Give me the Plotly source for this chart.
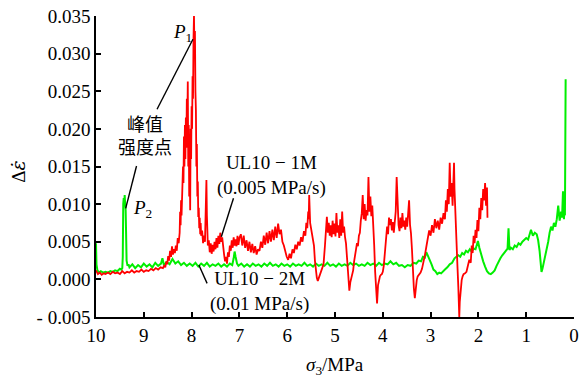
import plotly.graph_objects as go

# ---------------- data ----------------
# UL10-1M (0.005 MPa/s): sigma3 (MPa) and strain-rate increment
red_x = [
    10.00, 9.96, 9.92, 9.88, 9.84, 9.80, 9.75, 9.70, 9.65, 9.60, 9.55, 9.50, 9.45, 9.40, 9.35,
    9.30, 9.25, 9.20, 9.15, 9.10, 9.05, 9.00, 8.95, 8.90, 8.85, 8.80, 8.75, 8.70, 8.65, 8.60,
    8.57, 8.55, 8.53, 8.51, 8.49, 8.47, 8.45, 8.43, 8.41, 8.39, 8.37, 8.35, 8.33, 8.31, 8.29, 8.27,
    8.25, 8.24, 8.23, 8.22, 8.21, 8.20, 8.19, 8.18, 8.17, 8.16, 8.15, 8.14, 8.13, 8.12, 8.11, 8.10,
    8.09, 8.08, 8.07, 8.06, 8.05, 8.04, 8.03, 8.02, 8.01, 8.00, 7.99, 7.98, 7.97, 7.96, 7.95, 7.94,
    7.93, 7.92, 7.91, 7.90, 7.89, 7.88, 7.87, 7.86, 7.85, 7.84, 7.83, 7.82, 7.81, 7.80,
    7.78, 7.76, 7.74, 7.72, 7.71, 7.70, 7.69, 7.68, 7.67, 7.66, 7.64, 7.62, 7.60, 7.58, 7.56, 7.54,
    7.52, 7.50, 7.48, 7.46, 7.44, 7.42, 7.40, 7.38, 7.36, 7.34, 7.32, 7.30, 7.28, 7.26, 7.24, 7.22,
    7.20, 7.18, 7.16, 7.14, 7.12, 7.10, 7.08, 7.06, 7.04, 7.02, 7.00,
    6.97, 6.94, 6.91, 6.88, 6.85, 6.82, 6.79, 6.76, 6.73, 6.70, 6.67, 6.64, 6.61, 6.58, 6.55, 6.52,
    6.49, 6.46, 6.43, 6.40, 6.37, 6.34, 6.31, 6.28, 6.25, 6.22, 6.19, 6.16, 6.13, 6.10, 6.07, 6.04,
    6.01, 5.98,
    5.95, 5.92, 5.89, 5.86, 5.83, 5.80, 5.77, 5.74, 5.71, 5.68, 5.65, 5.62, 5.60, 5.58, 5.56, 5.55,
    5.54, 5.52, 5.50, 5.48, 5.46, 5.44, 5.42, 5.40, 5.38, 5.36,
    5.33, 5.30, 5.27, 5.24, 5.21, 5.19, 5.17, 5.15, 5.13, 5.11, 5.09, 5.07, 5.05, 5.03, 5.01, 4.99,
    4.97, 4.95, 4.93, 4.91, 4.89, 4.87, 4.85, 4.83, 4.81, 4.79, 4.77, 4.75, 4.73, 4.71, 4.70, 4.68,
    4.66, 4.64, 4.62, 4.60, 4.58, 4.56, 4.54, 4.52, 4.50, 4.48, 4.46, 4.44, 4.42,
    4.40, 4.38, 4.36, 4.34, 4.32, 4.30, 4.28, 4.26, 4.24, 4.22, 4.20, 4.18, 4.16, 4.14, 4.12, 4.10,
    4.08, 4.06, 4.04, 4.02, 4.00, 3.98,
    3.95, 3.93, 3.91, 3.89, 3.87, 3.85, 3.83, 3.81, 3.79, 3.77, 3.75, 3.73, 3.71, 3.69, 3.67, 3.65,
    3.63, 3.61, 3.59, 3.57, 3.55, 3.53, 3.51, 3.49, 3.47, 3.45, 3.43, 3.41, 3.39, 3.37, 3.35, 3.33,
    3.31, 3.29, 3.27, 3.25, 3.23, 3.21,
    3.18, 3.15, 3.12, 3.09, 3.06, 3.03, 3.00, 2.97, 2.94, 2.91, 2.88, 2.85, 2.82, 2.79, 2.76, 2.73,
    2.70, 2.68, 2.66, 2.64, 2.62, 2.61, 2.60, 2.58, 2.56, 2.54, 2.52, 2.51, 2.50, 2.48, 2.46, 2.44,
    2.42, 2.41, 2.40, 2.39, 2.37, 2.35, 2.33, 2.31,
    2.28, 2.25, 2.22, 2.19, 2.16, 2.14, 2.12, 2.10, 2.08, 2.06, 2.04, 2.02, 2.00, 1.98, 1.96, 1.94,
    1.92, 1.90, 1.88, 1.86, 1.84, 1.82, 1.81,
]
red_y = [
    0.0012, 0.0007, 0.0009, 0.0006, 0.0008, 0.0007, 0.0009, 0.0007, 0.0010, 0.0008, 0.0009, 0.0007, 0.0011, 0.0008, 0.0010,
    0.0009, 0.0012, 0.0009, 0.0011, 0.0010, 0.0013, 0.0010, 0.0012, 0.0011, 0.0014, 0.0012, 0.0015, 0.0013, 0.0016, 0.0015,
    0.0019, 0.0016, 0.0024, 0.0020, 0.0031, 0.0025, 0.0038, 0.0030, 0.0044, 0.0033, 0.0040, 0.0035, 0.0045, 0.0038, 0.0055, 0.0048,
    0.0062, 0.0090, 0.0072, 0.0105, 0.0085, 0.0118, 0.0102, 0.0150, 0.0128, 0.0190, 0.0150, 0.0205, 0.0160, 0.0215, 0.0175, 0.0240,
    0.0200, 0.0263, 0.0150, 0.0205, 0.0110, 0.0180, 0.0092, 0.0200, 0.0160, 0.0230, 0.0200, 0.0270, 0.0240, 0.0320, 0.0351, 0.0300,
    0.0330, 0.0250, 0.0225, 0.0150, 0.0180, 0.0110, 0.0130, 0.0083, 0.0095, 0.0068, 0.0082, 0.0060, 0.0075, 0.0058,
    0.0065, 0.0048, 0.0058, 0.0050, 0.0072, 0.0090, 0.0132, 0.0085, 0.0060, 0.0045, 0.0052, 0.0036, 0.0048, 0.0034, 0.0046, 0.0037,
    0.0050, 0.0040, 0.0055, 0.0042, 0.0058, 0.0047, 0.0062, 0.0050, 0.0056, 0.0040, 0.0033, 0.0024, 0.0030, 0.0021, 0.0036, 0.0030,
    0.0045, 0.0038, 0.0052, 0.0042, 0.0056, 0.0045, 0.0053, 0.0044, 0.0058, 0.0046, 0.0055,
    0.0060, 0.0045, 0.0058, 0.0042, 0.0052, 0.0038, 0.0050, 0.0036, 0.0047, 0.0035, 0.0044, 0.0033, 0.0040, 0.0038, 0.0050, 0.0042,
    0.0058, 0.0046, 0.0062, 0.0048, 0.0064, 0.0050, 0.0066, 0.0052, 0.0070, 0.0055, 0.0074, 0.0060, 0.0066, 0.0050, 0.0045, 0.0036,
    0.0030, 0.0026,
    0.0034, 0.0028, 0.0040, 0.0035, 0.0046, 0.0040, 0.0050, 0.0045, 0.0056, 0.0050, 0.0064, 0.0058, 0.0075, 0.0068, 0.0090, 0.0080,
    0.0112, 0.0075, 0.0068, 0.0062, 0.0055, 0.0045, 0.0025, 0.0010, 0.0002, -0.0002,
    0.0004, 0.0008, 0.0013, 0.0020, 0.0045, 0.0068, 0.0083, 0.0062, 0.0075, 0.0058, 0.0072, 0.0056, 0.0078, 0.0060, 0.0074, 0.0057,
    0.0088, 0.0062, 0.0072, 0.0055, 0.0080, 0.0058, 0.0090, 0.0062, 0.0070, 0.0056, 0.0048, 0.0030, 0.0008, -0.0010, -0.0015, -0.0004,
    0.0002, 0.0006, 0.0012, 0.0024, 0.0035, 0.0040, 0.0048, 0.0044, 0.0058, 0.0062, 0.0078, 0.0088, 0.0112,
    0.0080, 0.0100, 0.0078, 0.0092, 0.0085, 0.0136, 0.0090, 0.0110, 0.0084, 0.0098, 0.0076, 0.0045, 0.0010, -0.0015, -0.0032, -0.0008,
    0.0000, 0.0004, 0.0006, 0.0007, 0.0010, 0.0018,
    0.0040, 0.0062, 0.0070, 0.0060, 0.0082, 0.0072, 0.0080, 0.0065, 0.0076, 0.0062, 0.0078, 0.0090, 0.0136, 0.0085, 0.0072, 0.0064,
    0.0082, 0.0068, 0.0088, 0.0070, 0.0078, 0.0066, 0.0082, 0.0070, 0.0092, 0.0105, 0.0072, 0.0061, 0.0040, 0.0010, -0.0012, -0.0025,
    -0.0008, -0.0001, 0.0004, 0.0006, 0.0008, 0.0009,
    0.0014, 0.0022, 0.0032, 0.0043, 0.0052, 0.0065, 0.0058, 0.0072, 0.0062, 0.0080, 0.0068, 0.0078, 0.0066, 0.0082, 0.0074, 0.0088,
    0.0080, 0.0105, 0.0090, 0.0120, 0.0100, 0.0150, 0.0155, 0.0110, 0.0128, 0.0098, 0.0140, 0.0155, 0.0120, 0.0079, 0.0055, 0.0020,
    -0.0010, -0.0035, -0.0050, -0.0030, -0.0012, -0.0001, 0.0004, 0.0007,
    0.0008, 0.0010, 0.0018, 0.0026, 0.0022, 0.0045, 0.0035, 0.0058, 0.0048, 0.0066, 0.0055, 0.0079, 0.0064, 0.0095, 0.0080, 0.0108,
    0.0092, 0.0120, 0.0105, 0.0128, 0.0098, 0.0122, 0.0082,
]

# UL10-2M (0.01 MPa/s)
green_x = [
    10.00, 9.99, 9.97, 9.94, 9.90, 9.85, 9.80, 9.75, 9.70, 9.65, 9.60, 9.55, 9.50, 9.47, 9.45,
    9.44, 9.43, 9.42, 9.41, 9.40, 9.39, 9.38, 9.37, 9.36, 9.34, 9.32,
    9.30, 9.24, 9.18, 9.12, 9.06, 9.00, 8.94, 8.88, 8.82, 8.76, 8.70, 8.64, 8.61, 8.58, 8.52, 8.46,
    8.40, 8.34, 8.28, 8.22, 8.16, 8.10, 8.04, 7.98, 7.92, 7.86, 7.80, 7.74, 7.68, 7.62, 7.56, 7.50,
    7.44, 7.38, 7.32, 7.26, 7.20, 7.15, 7.12, 7.10, 7.08, 7.05, 7.02, 6.96, 6.90,
    6.84, 6.78, 6.72, 6.66, 6.60, 6.54, 6.48, 6.42, 6.36, 6.30, 6.24, 6.18, 6.12, 6.06, 6.00, 5.94,
    5.88, 5.82, 5.76, 5.70, 5.64, 5.58, 5.52, 5.46, 5.40, 5.34, 5.28, 5.22, 5.16, 5.10, 5.04, 4.98,
    4.92, 4.86, 4.80, 4.74, 4.68, 4.62, 4.56, 4.50, 4.44, 4.38, 4.32, 4.26, 4.20, 4.14, 4.08, 4.02,
    3.96, 3.90, 3.84, 3.78, 3.72, 3.66, 3.60, 3.54, 3.48, 3.42, 3.36,
    3.30, 3.25, 3.20, 3.16, 3.12, 3.09, 3.06, 3.02, 2.98, 2.94, 2.90, 2.86, 2.82, 2.78, 2.74, 2.70,
    2.65, 2.60, 2.55, 2.50, 2.46, 2.42, 2.38, 2.34, 2.30, 2.26, 2.22, 2.18, 2.14, 2.10, 2.06, 2.03,
    2.01, 1.98, 1.94, 1.90, 1.86, 1.82, 1.78, 1.74, 1.70, 1.66, 1.62, 1.58, 1.54, 1.50, 1.46, 1.42,
    1.39, 1.37, 1.35, 1.32, 1.28, 1.24, 1.20, 1.16, 1.12, 1.08, 1.04, 1.00, 0.96, 0.92, 0.90, 0.86,
    0.82, 0.78, 0.75, 0.72, 0.70, 0.68, 0.66, 0.63, 0.60, 0.57, 0.54, 0.51, 0.48, 0.45, 0.42, 0.39,
    0.36, 0.33, 0.30, 0.27, 0.25, 0.23, 0.22, 0.21, 0.20, 0.19, 0.185, 0.18, 0.175,
]
green_y = [
    0.0048, 0.0020, 0.0012, 0.0009, 0.0011, 0.0009, 0.0010, 0.0009, 0.0011, 0.0010, 0.0012, 0.0011, 0.0014, 0.0013, 0.0015,
    0.0030, 0.0100, 0.0108, 0.0097, 0.0112, 0.0100, 0.0092, 0.0060, 0.0025, 0.0018, 0.0020,
    0.0016, 0.0020, 0.0015, 0.0019, 0.0016, 0.0021, 0.0017, 0.0020, 0.0016, 0.0022, 0.0018, 0.0021, 0.0028, 0.0019, 0.0023, 0.0020,
    0.0027, 0.0021, 0.0024, 0.0019, 0.0022, 0.0018, 0.0021, 0.0018, 0.0022, 0.0017, 0.0021, 0.0018, 0.0022, 0.0017, 0.0020, 0.0018,
    0.0021, 0.0017, 0.0020, 0.0017, 0.0021, 0.0019, 0.0028, 0.0037, 0.0030, 0.0021, 0.0018, 0.0021, 0.0017,
    0.0020, 0.0017, 0.0021, 0.0018, 0.0020, 0.0017, 0.0021, 0.0018, 0.0022, 0.0018, 0.0020, 0.0017, 0.0021, 0.0018, 0.0020, 0.0017,
    0.0021, 0.0018, 0.0020, 0.0018, 0.0022, 0.0018, 0.0020, 0.0017, 0.0021, 0.0018, 0.0020, 0.0018, 0.0022, 0.0018, 0.0020, 0.0017,
    0.0021, 0.0018, 0.0020, 0.0018, 0.0022, 0.0019, 0.0021, 0.0018, 0.0020, 0.0018, 0.0022, 0.0019, 0.0021, 0.0018, 0.0022, 0.0019,
    0.0021, 0.0020, 0.0024, 0.0020, 0.0022, 0.0018, 0.0019, 0.0016, 0.0019, 0.0018, 0.0022,
    0.0021, 0.0025, 0.0024, 0.0030, 0.0029, 0.0036, 0.0032, 0.0027, 0.0020, 0.0013, 0.0011, 0.0007, 0.0009, 0.0008, 0.0011, 0.0013,
    0.0016, 0.0020, 0.0022, 0.0028, 0.0030, 0.0032, 0.0030, 0.0035, 0.0033, 0.0038, 0.0036, 0.0040, 0.0037, 0.0041, 0.0040, 0.0045,
    0.0051, 0.0042, 0.0032, 0.0024, 0.0017, 0.0011, 0.0008, 0.0007, 0.0009, 0.0012, 0.0018, 0.0024, 0.0028, 0.0032, 0.0035, 0.0038,
    0.0041, 0.0068, 0.0039, 0.0042, 0.0040, 0.0045, 0.0043, 0.0048, 0.0046, 0.0050, 0.0052, 0.0055, 0.0053, 0.0060, 0.0066, 0.0058,
    0.0062, 0.0060, 0.0052, 0.0038, 0.0022, 0.0010, 0.0014, 0.0022, 0.0030, 0.0040, 0.0050, 0.0062, 0.0070, 0.0065, 0.0075, 0.0070,
    0.0080, 0.0098, 0.0078, 0.0090, 0.0082, 0.0117, 0.0088, 0.0080, 0.0095, 0.0085, 0.0140, 0.0210, 0.0266,
]

x_ticks = [10, 9, 8, 7, 6, 5, 4, 3, 2, 1, 0]
y_ticks = [-0.005, 0.0, 0.005, 0.010, 0.015, 0.020, 0.025, 0.030, 0.035]
y_tick_text = ["- 0.005", "0.000", "0.005", "0.010", "0.015", "0.020", "0.025", "0.030", "0.035"]

SERIF = "Liberation Serif, Times New Roman, serif"
CJK = "Noto Sans CJK SC, sans-serif"
FS = 19

fig = go.Figure()
fig.add_trace(go.Scatter(x=green_x, y=green_y, mode="lines",
                         line=dict(color="#00ee00", width=2.0), showlegend=False))
fig.add_trace(go.Scatter(x=red_x, y=red_y, mode="lines",
                         line=dict(color="#ff0000", width=1.8), showlegend=False))

# leader lines from the labels to the curves
leaders = [
    (7.972, 0.03191, 8.723, 0.02261),
    (9.152, 0.01507, 9.379, 0.00944),
    (7.124, 0.01077, 7.378, 0.00566),
    (7.676, -0.00053, 7.848, 0.0019),
]
for x0, y0, x1, y1 in leaders:
    fig.add_shape(type="line", xref="x", yref="y", x0=x0, y0=y0, x1=x1, y1=y1,
                  line=dict(color="black", width=1.4))

def note(text, x, y, family=SERIF, xanchor="center", size=FS):
    fig.add_annotation(text=text, x=x, y=y, xref="x", yref="y", showarrow=False,
                       xanchor=xanchor, yanchor="middle",
                       font=dict(family=family, size=size, color="black"))

note("<i>P</i><sub>1</sub>", 8.43, 0.0328, xanchor="left")
note("<i>P</i><sub>2</sub>", 9.261, 0.0093, xanchor="left")
note("峰值<br>强度点", 8.965, 0.01926, family=CJK, size=18)
note("UL10 − 1M<br>(0.005 MPa/s)", 6.338, 0.01387)
note("UL10 − 2M<br>(0.01 MPa/s)", 6.586, -0.00156)

# axis titles
fig.add_annotation(text="<i>σ</i><sub>3</sub>/MPa", x=0.501, y=-0.163, xref="paper", yref="paper",
                   showarrow=False, xanchor="center", yanchor="middle",
                   font=dict(family=SERIF, size=FS, color="black"))
fig.add_annotation(text="Δ<span style=\"font-family:DejaVu Serif\"><i>ε̇</i></span>",
                   x=-0.1636, y=0.4817, xref="paper", yref="paper",
                   showarrow=False, xanchor="center", yanchor="middle", textangle=-90,
                   font=dict(family=SERIF, size=FS, color="black"))

axis_common = dict(showline=True, linecolor="black", linewidth=1.5, ticks="inside",
                   ticklen=5, tickwidth=1.5, tickcolor="black", showgrid=False,
                   zeroline=False, mirror=False,
                   tickfont=dict(family=SERIF, size=FS, color="black"))

fig.update_xaxes(range=[10, 0], tickvals=x_ticks, ticktext=[str(v) for v in x_ticks], **axis_common)
fig.update_yaxes(range=[-0.005, 0.035], tickvals=y_ticks, ticktext=y_tick_text, **axis_common)

fig.update_layout(width=585, height=378, margin=dict(l=96, r=6, t=16, b=61),
                  plot_bgcolor="white", paper_bgcolor="white")

fig.write_html("out.html")
